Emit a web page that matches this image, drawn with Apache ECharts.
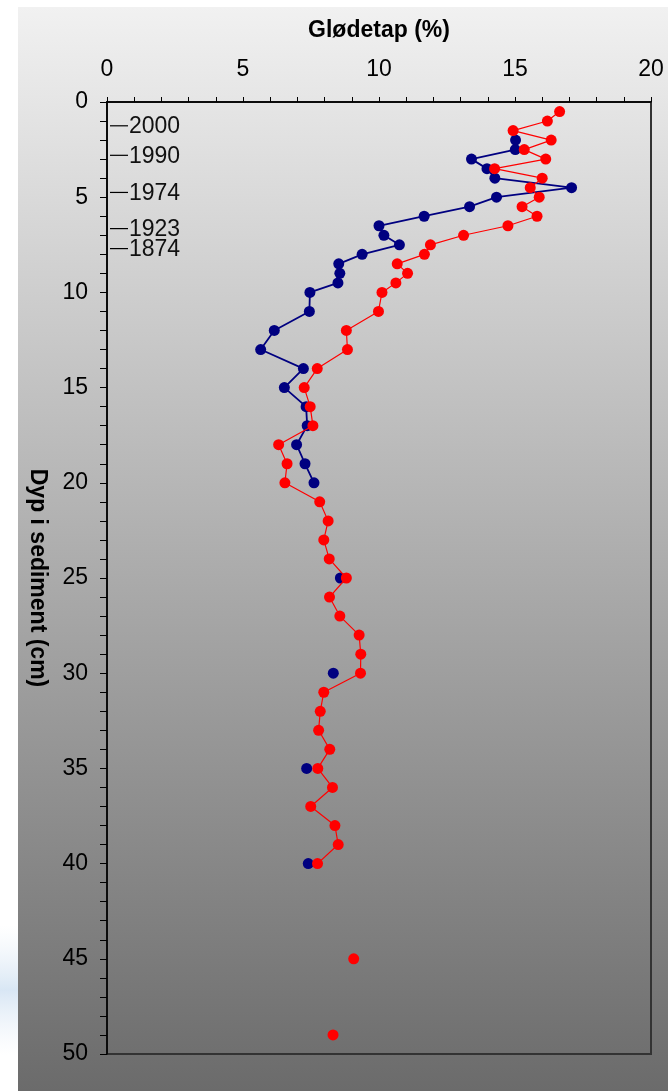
<!DOCTYPE html>
<html><head><meta charset="utf-8">
<script src="https://cdn.jsdelivr.net/npm/echarts@6/dist/echarts.min.js"></script>
<style>html,body{margin:0;padding:0;background:#fff;}#c{width:668px;height:1091px;}</style>
</head><body><div id="c"></div>
<script>
const xTitle = 'Glødetap (%)';
const yTitle = 'Dyp i sediment (cm)';

const redDepth = [0.5,1,1.5,2,2.5,3,3.5,4,4.5,5,5.5,6,6.5,7,7.5,8,8.5,9,9.5,
  10,11,12,13,14,15,16,17,18,19,20,21,22,23,24,25,26,27,28,29,30,
  31,32,33,34,35,36,37,38,39,40,45,49];
const redLoss = [16.64,16.19,14.93,16.33,15.34,16.13,14.25,16.0,15.56,15.89,15.26,15.81,14.74,13.11,11.89,11.67,10.67,11.05,10.62,
  10.11,9.98,8.80,8.84,7.73,7.25,7.47,7.57,6.31,6.62,6.54,7.82,8.13,7.97,8.17,8.80,8.18,8.56,9.27,9.33,9.32,
  7.97,7.84,7.78,8.19,7.75,8.29,7.49,8.38,8.50,7.74,9.07,8.31];

const blueDepth = [2,2.5,3,3.5,4,4.5,5,5.5,6,6.5,7,7.5,8,8.5,9,9.5,
  10,11,12,13,14,15,16,17,18,19,20,25,30,35,40];
const blueLoss = [15.02,15.01,13.40,13.97,14.26,17.08,14.32,13.33,11.66,10.0,10.18,10.75,9.38,8.52,8.56,8.49,
  7.46,7.44,6.15,5.65,7.22,6.52,7.32,7.36,6.97,7.28,7.61,8.58,8.32,7.34,7.40];

const dateDepth = [1.25, 2.8, 4.75, 6.65, 7.7];
const dateLabel = ['2000','1990','1974','1923','1874'];

const FONT = '"Liberation Sans", Arial, sans-serif';

function build(depths, vals) {
  const out = [];
  for (let i = 0; i < depths.length; i++) {
    if (i > 0 && depths[i] - depths[i-1] > 1.01) out.push([null, null]);
    out.push([vals[i], depths[i]]);
  }
  return out;
}

const chart = echarts.init(document.getElementById('c'), null, {renderer: 'canvas'});
chart.setOption({
  animation: false,
  backgroundColor: '#ffffff',
  graphic: {
    elements: [
      {type: 'rect', z: -100, shape: {x: 0, y: 925, width: 18, height: 130},
       style: {fill: new echarts.graphic.LinearGradient(0, 0, 0, 1, [
         {offset: 0, color: 'rgba(225,235,245,0)'},
         {offset: 0.5, color: 'rgba(200,220,240,0.7)'},
         {offset: 1, color: 'rgba(225,235,245,0)'}])}},
      {type: 'rect', z: -100, shape: {x: 18, y: 7, width: 650, height: 1084},
       style: {fill: new echarts.graphic.LinearGradient(0, 0, 0, 1, [
         {offset: 0, color: '#f1f1f1'},
         {offset: 1, color: '#6b6b6b'}])}}
    ]
  },
  grid: {left: 107, right: 17, top: 102, bottom: 37, show: true,
         borderColor: '#333', borderWidth: 2, backgroundColor: 'transparent'},
  xAxis: {
    type: 'value', position: 'top', min: 0, max: 20, interval: 5,
    name: xTitle, nameLocation: 'middle', nameGap: 60,
    nameTextStyle: {fontFamily: FONT, fontSize: 23, fontWeight: 'bold', color: '#000'},
    axisLine: {show: true, onZero: false, lineStyle: {color: '#000', width: 1.5}},
    axisTick: {show: true, length: 5, lineStyle: {color: '#000', width: 1}},
    minorTick: {show: true, splitNumber: 5, length: 5, lineStyle: {color: '#000', width: 1}},
    splitLine: {show: false}, minorSplitLine: {show: false},
    axisLabel: {fontFamily: FONT, fontSize: 23, color: '#000', margin: 21}
  },
  yAxis: {
    type: 'value', inverse: true, min: 0, max: 50, interval: 5,
    name: yTitle, nameLocation: 'middle', nameGap: 58, nameRotate: -90,
    nameTextStyle: {fontFamily: FONT, fontSize: 23, fontWeight: 'bold', color: '#000'},
    axisLine: {show: true, onZero: false, lineStyle: {color: '#000', width: 1.5}},
    axisTick: {show: true, length: 7, lineStyle: {color: '#000', width: 1}},
    minorTick: {show: true, splitNumber: 5, length: 7, lineStyle: {color: '#000', width: 1}},
    splitLine: {show: false}, minorSplitLine: {show: false},
    axisLabel: {fontFamily: FONT, fontSize: 23, color: '#000', margin: 19}
  },
  series: [
    {
      type: 'line', name: 'blue', data: build(blueDepth, blueLoss), z: 2,
      symbol: 'circle', symbolSize: 11, showSymbol: true, connectNulls: false,
      itemStyle: {color: '#000080'}, lineStyle: {color: '#000080', width: 1.8}
    },
    {
      type: 'line', name: 'red', data: build(redDepth, redLoss), z: 3,
      symbol: 'circle', symbolSize: 11, showSymbol: true, connectNulls: false,
      itemStyle: {color: '#ff0000'}, lineStyle: {color: '#ff0000', width: 1.2}
    },
    {
      type: 'custom', name: 'dates', z: 4,
      data: dateDepth.map((d, i) => [0, d, dateLabel[i]]),
      encode: {x: 0, y: 1},
      renderItem: function (params, api) {
        const p = api.coord([api.value(0), api.value(1)]);
        const label = dateLabel[params.dataIndex];
        return {
          type: 'group',
          children: [
            {type: 'line', shape: {x1: p[0] + 3, y1: p[1], x2: p[0] + 21, y2: p[1]},
             style: {stroke: '#000', lineWidth: 1.2}},
            {type: 'text', x: p[0] + 22, y: p[1] + 1,
             style: {text: label, fontFamily: FONT, fontSize: 23, fill: '#111',
                     align: 'left', verticalAlign: 'middle'}}
          ]
        };
      }
    }
  ]
});
</script>
</body></html>
